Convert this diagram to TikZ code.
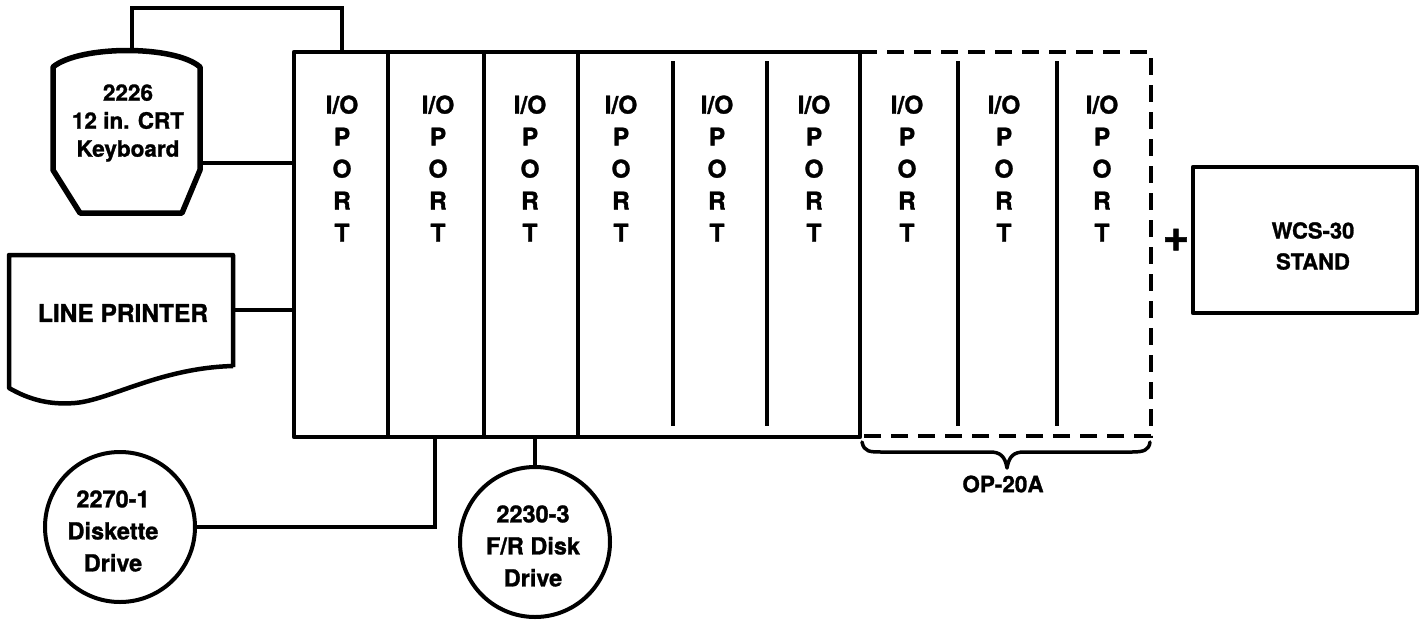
\documentclass[tikz,border=0pt]{standalone}
\usepackage{fontspec}
\setmainfont{TeX Gyre Heros}[BoldFeatures={FakeBold=1.2}]
\begin{document}
\begin{tikzpicture}[x=1pt,y=-1pt,
  shapeline/.style={line width=4.5pt, line join=round},
  conn/.style={line width=3.5pt},
  divider/.style={line width=4pt},
  dashline/.style={line width=4pt, dash pattern=on 17pt off 10pt},
  porttext/.style={align=center, inner sep=0pt, font=\fontsize{24.5}{32}\selectfont\bfseries},
  lbl/.style={align=center, inner sep=0pt, font=\fontsize{22.5}{29}\selectfont\bfseries},
  disklbl/.style={align=center, inner sep=0pt, font=\fontsize{23.5}{32}\selectfont\bfseries},
  drive/.style={circle, draw, line width=4pt, minimum size=150pt, inner sep=0pt}]
\useasboundingbox (0,0) rectangle (1428,619);

% main I/O box (solid part)
\node[draw, shapeline, rectangle, minimum width=566pt, minimum height=385pt, inner sep=0pt] (mainbox) at (577,244.5) {};
% full dividers
\foreach \xx in {388,484,578} \draw[divider] (\xx,52) -- (\xx,437);
% inner dividers
\foreach \xx in {673,767,958,1057} \draw[divider] (\xx,61) -- (\xx,426);
% dashed extension (OP-20A)
\coordinate (dTL) at (860,52);
\coordinate (dTR) at (1151,52);
\coordinate (dBR) at (1151,436);
\coordinate (dBL) at (860,436);
\draw[dashline] (dTL) -- (dTR) -- (dBR) -- (dBL);

% port labels
\node[porttext] (p1) at (342,168.5) {I/O\\P\\O\\R\\T};
\node[porttext] (p2) at (438,168.5) {I/O\\P\\O\\R\\T};
\node[porttext] (p3) at (530,168.5) {I/O\\P\\O\\R\\T};
\node[porttext] (p4) at (621,168.5) {I/O\\P\\O\\R\\T};
\node[porttext] (p5) at (717,168.5) {I/O\\P\\O\\R\\T};
\node[porttext] (p6) at (814,168.5) {I/O\\P\\O\\R\\T};
\node[porttext] (p7) at (907,168.5) {I/O\\P\\O\\R\\T};
\node[porttext] (p8) at (1004,168.5) {I/O\\P\\O\\R\\T};
\node[porttext] (p9) at (1102,168.5) {I/O\\P\\O\\R\\T};

% CRT keyboard
\draw[line width=5.5pt, line join=round] (53,67) -- (53,170) -- (80,213) -- (182,213) -- (200,170) -- (200,67)
  .. controls (175,45) and (80,45) .. cycle;
\node[lbl, font=\fontsize{22.5}{28}\selectfont\bfseries] (crt) at (128,123) {2226\\12 in. CRT\\Keyboard};
\coordinate (crtT) at (132,49);
\coordinate (crtR) at (200,163);
\coordinate (topR) at (342,8);
\coordinate (bustop) at (342,52);

% line printer
\draw[shapeline] (233,367) -- (233,255) -- (9,255) -- (9,388)
  .. controls (30,400) and (50,405) .. (75,403)
  .. controls (110,400) and (160,368) .. (233,366);
\node[lbl, font=\fontsize{24.5}{28}\selectfont\bfseries] (lp) at (123,313) {LINE PRINTER};
\coordinate (lpR) at (233,310);

% drives
\node[drive] (disk1) at (120,527) {};
\node[disklbl] (disk1t) at (113,531) {2270-1\\Diskette\\Drive};
\node[drive] (disk2) at (535,542) {};
\node[disklbl] (disk2t) at (533,546) {2230-3\\F/R Disk\\Drive};
\coordinate (b1) at (435,437);

% WCS-30 stand
\node[draw, shapeline, rectangle, minimum width=224pt, minimum height=146pt, inner sep=0pt] (wcs) at (1305,240) {};
\node[lbl, font=\fontsize{22}{31}\selectfont\bfseries] (wcst) at (1313,246) {WCS-30\\STAND};
\node[inner sep=0pt, font=\fontsize{46}{46}\selectfont\bfseries] (plus) at (1176,240) {+};

% brace and OP-20A label
\coordinate (brL) at (862,442);
\coordinate (brTip) at (1007,468);
\coordinate (brR) at (1150,442);
\draw[line width=3.5pt, line cap=round, line join=round] (brL) .. controls (864,452) and (870,452) .. (882,452) -- (990,452)
  .. controls (1000,452) and (1005,456) .. (brTip)
  .. controls (1009,456) and (1014,452) .. (1024,452) -- (1132,452)
  .. controls (1144,452) and (1149,450) .. (brR);
\node[lbl] (op) at (1003,484) {OP-20A};

% connectors
\draw[conn] (crtT) |- (topR) -- (bustop);
\draw[conn] (crtR) -- (crtR -| mainbox.west);
\draw[conn] (lpR) -- (lpR -| mainbox.west);
\draw[conn] (disk1.east) -| (b1);
\draw[conn] (disk2.north) -- (disk2.north |- mainbox.south);
\end{tikzpicture}
\end{document}
